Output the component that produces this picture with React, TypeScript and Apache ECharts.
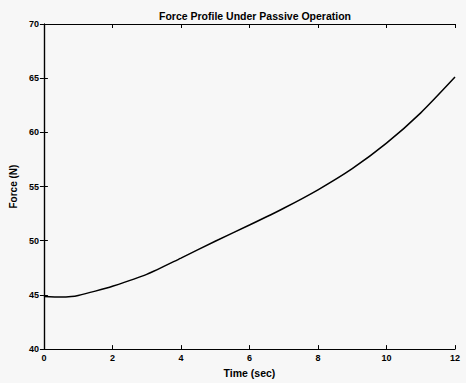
import React, { useEffect, useRef } from "react";
import * as echarts from "echarts";

const timeSec = [0, 0.5, 0.8, 1, 1.5, 2, 3, 4, 5, 6, 7, 8, 9, 10, 11, 12];
const forceN = [44.85, 44.8, 44.85, 44.95, 45.35, 45.8, 46.9, 48.4, 49.95, 51.45, 53.0, 54.7, 56.65, 59.0, 61.8, 65.1];
const chartTitle = "Force Profile Under Passive Operation";
const xName = "Time (sec)";
const yName = "Force (N)";

export default function App() {
  const ref = useRef<HTMLDivElement>(null);
  useEffect(() => {
    if (!ref.current) return;
    const chart = echarts.init(ref.current, null, { renderer: "svg" });
    const font = "'Liberation Sans', Arial, sans-serif";
    const axisCommon = {
      axisLine: { show: true, lineStyle: { color: "#000", width: 1.2 } },
      axisTick: { show: true, inside: true, length: 4, lineStyle: { color: "#000" } },
      splitLine: { show: false },
    };
    chart.setOption({
      animation: false,
      backgroundColor: "#f7f7f7",
      title: {
        text: chartTitle,
        left: 250,
        top: 5,
        textAlign: "center",
        textStyle: { fontFamily: font, fontSize: 10.5, fontWeight: "bold", color: "#000" },
      },
      grid: { left: 43, right: 11, top: 24, bottom: 29 },
      xAxis: [
        {
          type: "value",
          min: 0,
          max: 12,
          interval: 2,
          position: "bottom",
          name: xName,
          nameLocation: "middle",
          nameGap: 14,
          nameTextStyle: { fontFamily: font, fontSize: 10.5, fontWeight: "bold", color: "#000" },
          axisLabel: { fontFamily: font, fontSize: 9, fontWeight: "bold", color: "#000", margin: 4 },
          ...axisCommon,
        },
        {
          type: "value",
          min: 0,
          max: 12,
          interval: 2,
          position: "top",
          axisLabel: { show: false },
          ...axisCommon,
        },
      ],
      yAxis: [
        {
          type: "value",
          min: 40,
          max: 70,
          interval: 5,
          position: "left",
          name: yName,
          nameLocation: "middle",
          nameGap: 20,
          nameRotate: 90,
          nameTextStyle: { fontFamily: font, fontSize: 10, fontWeight: "bold", color: "#000" },
          axisLabel: { fontFamily: font, fontSize: 9, fontWeight: "bold", color: "#000", margin: 5 },
          ...axisCommon,
        },
        {
          type: "value",
          min: 40,
          max: 70,
          interval: 5,
          position: "right",
          axisLabel: { show: false },
          ...axisCommon,
        },
      ],
      series: [
        {
          type: "line",
          data: timeSec.map((t, i) => [t, forceN[i]]),
          smooth: 0.25,
          showSymbol: false,
          lineStyle: { color: "#000", width: 1.5 },
        },
      ],
    });
    return () => chart.dispose();
  }, []);
  return (
    <div
      ref={ref}
      style={{ position: "fixed", left: 0, top: 0, width: 466, height: 383 }}
    />
  );
}
